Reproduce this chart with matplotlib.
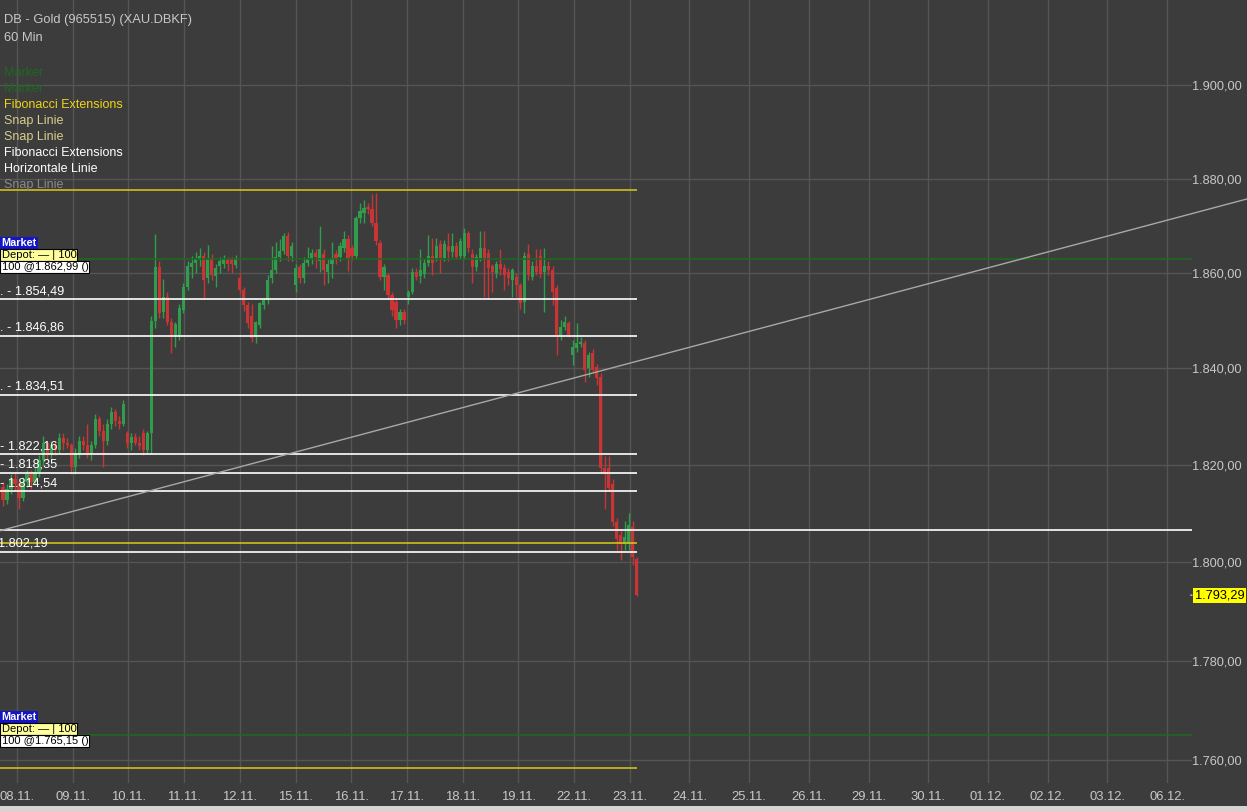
import numpy as np
import matplotlib
matplotlib.use("Agg")
import matplotlib.pyplot as plt
from matplotlib.ticker import NullLocator, NullFormatter
from matplotlib.patches import Rectangle

plt.rcParams['font.family'] = ['Liberation Sans', 'DejaVu Sans']

# ---------------- data (60 min candles) ----------------
opens = [1815.5, 1812.8, 1815.0, 1817.0, 1816.0, 1813.2, 1816.5, 1818.0, 1816.5, 1818.5,
         1821.0, 1824.5, 1822.0, 1824.0, 1823.0, 1825.5, 1824.5, 1824.0, 1819.5, 1822.5,
         1825.0, 1824.0, 1822.5, 1824.0, 1829.5, 1827.0, 1825.0, 1828.5, 1831.0, 1829.0,
         1828.5, 1826.5, 1824.5, 1825.7, 1824.5, 1826.5, 1823.0, 1826.5, 1850.0, 1861.2,
         1851.8, 1854.9, 1849.7, 1847.0, 1847.0, 1852.2, 1857.0, 1861.2, 1862.2, 1862.7,
         1863.7, 1859.0, 1863.1, 1859.3, 1861.5, 1862.0, 1862.8, 1863.0, 1861.8, 1858.9,
         1856.4, 1853.3, 1851.0, 1846.6, 1849.1, 1853.3, 1854.3, 1858.9, 1860.6, 1863.3,
         1864.7, 1867.9, 1863.7, 1857.4, 1861.2, 1858.9, 1862.2, 1863.0, 1864.2, 1862.5,
         1864.1, 1860.2, 1862.0, 1864.0, 1863.3, 1865.4, 1867.3, 1865.2, 1863.7, 1871.6,
         1872.7, 1874.0, 1873.5, 1870.6, 1866.4, 1859.1, 1859.5, 1855.3, 1853.9, 1850.1,
         1851.8, 1854.9, 1856.0, 1860.2, 1859.4, 1859.9, 1862.2, 1863.7, 1863.1, 1866.2,
         1863.1, 1865.8, 1864.5, 1865.8, 1863.7, 1863.7, 1868.5, 1864.1, 1861.2, 1863.1,
         1865.4, 1864.3, 1861.6, 1860.0, 1862.0, 1861.0, 1860.2, 1858.5, 1859.1, 1857.4,
         1853.9, 1864.1, 1859.1, 1861.6, 1863.7, 1860.2, 1861.6, 1860.6, 1856.8, 1847.0,
         1848.7, 1849.5, 1842.8, 1844.3, 1845.0, 1845.3, 1840.1, 1843.2, 1840.3, 1838.2,
         1819.4, 1819.4, 1816.0, 1808.3, 1805.6, 1803.7, 1803.7, 1807.3, 1800.6]
highs = [1816.5, 1816.0, 1818.0, 1818.5, 1816.8, 1817.5, 1819.0, 1819.0, 1819.5, 1822.0,
         1826.0, 1825.0, 1825.0, 1825.0, 1826.5, 1826.5, 1825.5, 1824.5, 1823.5, 1826.0,
         1826.0, 1828.5, 1825.0, 1830.5, 1830.0, 1828.5, 1829.5, 1832.0, 1831.5, 1830.0,
         1833.5, 1827.0, 1826.5, 1826.5, 1826.0, 1827.5, 1827.0, 1851.0, 1868.3, 1862.5,
         1858.8, 1856.0, 1850.5, 1849.8, 1853.5, 1858.0, 1862.5, 1863.7, 1864.5, 1865.4,
         1864.5, 1866.0, 1864.0, 1862.0, 1863.5, 1863.8, 1863.5, 1863.5, 1863.8, 1860.0,
         1857.0, 1854.0, 1853.5, 1849.9, 1854.0, 1854.8, 1859.5, 1865.8, 1866.5, 1867.2,
         1868.5, 1868.6, 1866.5, 1862.0, 1862.0, 1863.5, 1865.6, 1865.0, 1865.0, 1870.0,
         1865.0, 1863.0, 1866.5, 1864.8, 1866.5, 1868.8, 1868.0, 1866.0, 1872.0, 1874.8,
         1875.5, 1874.8, 1876.8, 1877.0, 1867.0, 1862.0, 1860.0, 1856.0, 1854.5, 1852.5,
         1852.5, 1856.5, 1861.0, 1861.0, 1865.0, 1863.0, 1868.0, 1867.5, 1867.5, 1867.0,
         1867.0, 1868.5, 1868.5, 1866.5, 1867.5, 1869.5, 1869.0, 1865.0, 1864.0, 1869.0,
         1869.0, 1865.0, 1862.0, 1862.5, 1865.0, 1862.0, 1861.0, 1861.0, 1860.0, 1858.0,
         1864.5, 1866.2, 1862.5, 1865.0, 1865.0, 1865.4, 1862.5, 1861.5, 1857.5, 1850.2,
         1851.0, 1850.0, 1846.0, 1849.5, 1846.5, 1846.0, 1843.5, 1844.0, 1841.0, 1839.0,
         1821.9, 1821.9, 1817.0, 1809.0, 1806.5, 1808.5, 1810.0, 1808.5, 1801.0]
lows = [1811.5, 1812.0, 1814.0, 1814.5, 1811.0, 1812.5, 1815.5, 1815.0, 1815.8, 1817.5,
        1820.0, 1821.0, 1821.5, 1822.0, 1822.5, 1823.0, 1823.5, 1818.0, 1818.0, 1821.5,
        1823.0, 1821.5, 1821.0, 1823.5, 1826.0, 1819.5, 1824.0, 1827.5, 1828.0, 1827.5,
        1828.0, 1823.5, 1823.0, 1824.0, 1823.0, 1822.0, 1822.5, 1822.3, 1848.5, 1850.5,
        1850.5, 1849.0, 1843.2, 1844.5, 1846.0, 1851.5, 1856.5, 1859.0, 1860.0, 1861.5,
        1854.7, 1858.0, 1858.5, 1857.0, 1860.0, 1861.0, 1860.5, 1860.0, 1861.0, 1855.8,
        1852.0, 1848.5, 1845.5, 1845.3, 1848.5, 1852.5, 1853.5, 1858.0, 1860.0, 1862.5,
        1864.0, 1862.5, 1862.5, 1856.0, 1858.0, 1858.0, 1861.5, 1862.0, 1861.0, 1860.2,
        1857.5, 1858.0, 1859.0, 1862.0, 1862.5, 1864.5, 1860.5, 1862.8, 1863.0, 1870.5,
        1870.5, 1872.5, 1870.0, 1866.0, 1858.5, 1856.5, 1854.5, 1851.0, 1848.5, 1849.0,
        1849.3, 1853.5, 1855.5, 1858.5, 1858.0, 1859.0, 1861.5, 1859.5, 1862.5, 1860.0,
        1862.5, 1862.5, 1863.5, 1863.0, 1863.0, 1863.0, 1864.5, 1858.0, 1860.5, 1862.5,
        1854.9, 1854.5, 1856.0, 1859.0, 1859.5, 1856.5, 1857.5, 1855.0, 1855.0, 1852.5,
        1851.6, 1858.5, 1858.5, 1859.5, 1859.0, 1851.8, 1859.5, 1853.3, 1842.8, 1846.0,
        1848.0, 1846.5, 1840.7, 1843.5, 1844.5, 1837.2, 1838.2, 1839.0, 1836.5, 1818.5,
        1811.0, 1814.5, 1807.5, 1802.5, 1800.5, 1802.5, 1802.5, 1799.5, 1793.1]
closes = [1812.8, 1815.0, 1817.0, 1816.0, 1813.2, 1816.5, 1818.0, 1816.5, 1818.5, 1821.0,
          1824.5, 1822.0, 1824.0, 1823.0, 1825.5, 1824.5, 1824.0, 1819.5, 1822.5, 1825.0,
          1824.0, 1822.5, 1824.0, 1829.5, 1827.0, 1825.0, 1828.5, 1831.0, 1829.0, 1828.5,
          1832.5, 1824.5, 1825.7, 1824.5, 1823.8, 1823.0, 1826.5, 1850.0, 1861.2, 1851.6,
          1854.9, 1849.7, 1847.0, 1849.3, 1852.6, 1857.0, 1861.6, 1862.2, 1863.0, 1863.7,
          1858.5, 1863.0, 1859.5, 1861.0, 1862.5, 1863.0, 1862.0, 1862.0, 1863.2, 1856.4,
          1853.3, 1849.5, 1846.4, 1849.7, 1853.7, 1854.3, 1858.5, 1860.6, 1863.3, 1864.7,
          1867.9, 1863.7, 1865.7, 1861.0, 1858.9, 1862.2, 1863.0, 1864.2, 1863.5, 1865.0,
          1860.6, 1862.0, 1863.1, 1863.0, 1865.8, 1867.3, 1863.1, 1863.7, 1871.6, 1873.1,
          1873.7, 1873.5, 1870.6, 1866.8, 1859.1, 1861.2, 1855.3, 1852.2, 1850.1, 1851.8,
          1850.1, 1856.0, 1860.2, 1859.1, 1860.6, 1862.2, 1863.7, 1862.2, 1865.8, 1863.1,
          1866.2, 1864.7, 1865.8, 1863.5, 1866.8, 1868.5, 1865.2, 1861.2, 1863.3, 1865.4,
          1862.7, 1861.0, 1860.2, 1862.0, 1860.8, 1859.5, 1858.9, 1860.6, 1857.4, 1853.7,
          1863.7, 1859.5, 1861.6, 1860.2, 1859.9, 1861.6, 1860.6, 1856.0, 1847.0, 1848.7,
          1849.7, 1847.0, 1844.5, 1845.3, 1845.6, 1839.6, 1842.8, 1839.6, 1838.0, 1819.4,
          1818.4, 1815.2, 1808.3, 1804.8, 1803.7, 1805.2, 1807.7, 1801.0, 1793.3]

past_dates = ["08.11.", "09.11.", "10.11.", "11.11.", "12.11.", "15.11.", "16.11.",
              "17.11.", "18.11.", "19.11.", "22.11.", "23.11."]
future_dates = ["24.11.", "25.11.", "26.11.", "29.11.", "30.11.", "01.12.", "02.12.",
                "03.12.", "06.12."]
ytick_vals = [1760, 1780, 1800, 1820, 1840, 1860, 1880, 1900]
ytick_labels = ["1.760,00", "1.780,00", "1.800,00", "1.820,00", "1.840,00",
                "1.860,00", "1.880,00", "1.900,00"]

fib_levels = [1854.49, 1846.86, 1834.51, 1822.16, 1818.35, 1814.54, 1802.19]
fib_labels = [". - 1.854,49", ". - 1.846,86", ". - 1.834,51", "- 1.822,16", "- 1.818,35",
              "- 1.814,54", "1.802,19"]
yellow_levels = [1877.6, 1803.9, 1758.5]
green_levels = [1862.99, 1765.15]
horiz_level = 1806.6
trend_y = [1806.45, 1875.7]
last_price = 1793.29
last_label = "1.793,29"

legend_items = [("Marker", "#1d6a1d"), ("Marker", "#1d6a1d"),
                ("Fibonacci Extensions", "#f0d418"), ("Snap Linie", "#d8cf8c"),
                ("Snap Linie", "#d8cf8c"), ("Fibonacci Extensions", "#ffffff"),
                ("Horizontale Linie", "#ffffff"), ("Snap Linie", "#8a8a8a")]

# ---------------- layout helpers ----------------
W, H = 1247, 811
BG = "#3c3c3c"
GRID = "#555555"
TXT = "#c8c8c8"
GREEN = "#2f9d4b"
RED = "#c93535"
STEP = 4.011  # pixels per candle


def idx(px):
    return (px - 3.0) / STEP


def fx(px):
    return px / W


def fy(py):
    return 1 - py / H


fig = plt.figure(figsize=(W / 100, H / 100), dpi=100, facecolor=BG)
ax = fig.add_axes([0, 28 / H, 1192 / W, 783 / H])
ax.set_facecolor(BG)
ax.set_yscale("log")
ax.set_ylim(1755.5, 1918.5)
ax.set_xlim(idx(0), idx(1192))
for s in ax.spines.values():
    s.set_visible(False)

ax.set_yticks(ytick_vals, ytick_labels)
ax.yaxis.set_minor_locator(NullLocator())
ax.yaxis.set_minor_formatter(NullFormatter())
ax.yaxis.tick_right()
ax.tick_params(axis="y", length=0, pad=0, labelcolor=TXT, labelsize=9.2)

past_px = [17 + 55.7 * i for i in range(len(past_dates))]
future_px = [689.4 + 59.7 * i for i in range(len(future_dates))]
xt = [idx(p) for p in past_px + future_px]
ax.set_xticks(xt, past_dates + future_dates)
ax.tick_params(axis="x", length=0, pad=6, labelcolor=TXT, labelsize=9.4)
ax.grid(True, color=GRID, lw=1)
ax.set_axisbelow(True)

# candles
o = np.array(opens); h = np.array(highs); l = np.array(lows); c = np.array(closes)
x = np.arange(len(o))
cols = np.where(c >= o, GREEN, RED)
ax.vlines(x, l, h, colors=cols, lw=1, zorder=3)
body_lo = np.minimum(o, c)
body_h = np.maximum(np.abs(c - o), 0.4)
ax.bar(x, body_h, bottom=body_lo, width=0.8, color=cols, lw=0, zorder=4)

end_short = idx(637)
x_left = idx(-2)
x_right = idx(1192)

for lv in fib_levels:
    ax.hlines(lv, x_left, end_short, colors="#ffffff", lw=1.2, zorder=5)
for lv in yellow_levels:
    ax.hlines(lv, x_left, end_short, colors="#dccb16", lw=1.1, zorder=5)
for lv in green_levels:
    ax.hlines(lv, x_left, x_right, colors="#1d6a1d", lw=1.1, zorder=5)
ax.hlines(horiz_level, x_left, x_right, colors="#ffffff", lw=1.2, zorder=5)

ax.plot([idx(0), idx(1247)], trend_y, color="#a8a8a8", lw=1, clip_on=False, zorder=5)

# fib labels
fib_x = [0, 0, 0, 0, 0, 0, -2]
for lv, lab, px in zip(fib_levels, fib_labels, fib_x):
    ax.annotate(lab, xy=(idx(px), lv), xytext=(0, 2), textcoords="offset pixels",
                ha="left", va="bottom", color="#ffffff", fontsize=9.2, zorder=6,
                annotation_clip=False)

# header texts
fig.text(fx(4), fy(20), "DB - Gold (965515) (XAU.DBKF)", color=TXT, fontsize=9.3,
         ha="left", va="center")
fig.text(fx(4), fy(38), "60 Min", color=TXT, fontsize=9.3, ha="left", va="center")
for i, (lab, col) in enumerate(legend_items):
    fig.text(fx(4), fy(73 + 16 * i), lab, color=col, fontsize=9, ha="left", va="center")

# order boxes
for ypx, price in [(243, "1.862,99"), (717, "1.765,15")]:
    fig.text(fx(1.5), fy(ypx), "Market", color="#ffffff", fontsize=7.8, fontweight="bold",
             ha="left", va="center",
             bbox=dict(boxstyle="square,pad=0.1", fc="#1414c8", ec="none"))
    fig.text(fx(1.5), fy(ypx + 12), "Depot: \u2014 | 100", color="#000000", fontsize=8,
             ha="left", va="center",
             bbox=dict(boxstyle="square,pad=0.1", fc="#ffff99", ec="#000000", lw=0.8))
    fig.text(fx(1.5), fy(ypx + 24), "100 @" + price + " ()", color="#000000", fontsize=8,
             ha="left", va="center",
             bbox=dict(boxstyle="square,pad=0.1", fc="#ffffff", ec="#000000", lw=0.8))

# last price tag
ax.annotate("", xy=(x_right, last_price), xytext=(idx(1188), last_price),
            arrowprops=dict(arrowstyle="-", color="#c8c8c8", lw=1), annotation_clip=False)
ax.annotate(last_label, xy=(x_right, last_price), xytext=(3, 0), textcoords="offset pixels",
            ha="left", va="center", color="#000000", fontsize=9.2, annotation_clip=False,
            bbox=dict(boxstyle="square,pad=0.12", fc="#ffff00", ec="none"))

fig.add_artist(Rectangle((0, 0), 1, 5 / H, transform=fig.transFigure,
                         facecolor="#d4d4d4", edgecolor="none"))

fig.savefig("out.png", dpi=100, facecolor=BG)
